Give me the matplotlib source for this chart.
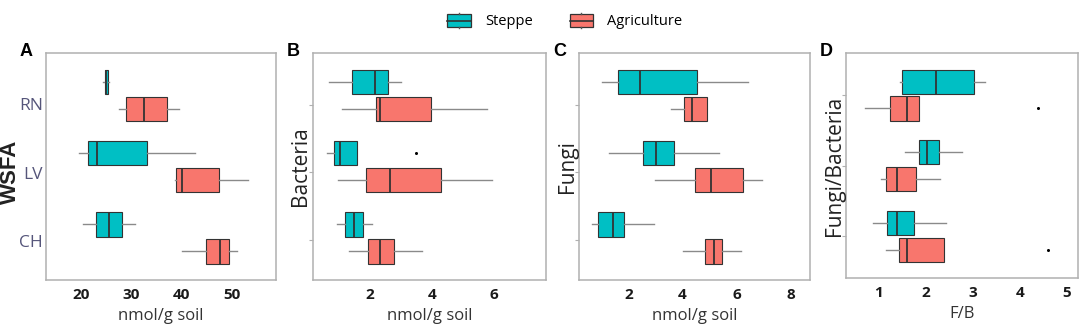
import matplotlib
matplotlib.use("Agg")
import matplotlib.pyplot as plt
from matplotlib.legend_handler import HandlerBase
from matplotlib.patches import Rectangle, Patch
from matplotlib.lines import Line2D

# five-number summaries: [whisker low, q1, median, q3, whisker high], order CH, LV, RN
sites = ["CH", "LV", "RN"]
groups = ["Steppe", "Agriculture"]
colors = ["#00BFC4", "#F8766D"]

wsfa_steppe = [[20.2, 22.9, 25.5, 28.1, 30.7], [19.5, 21.3, 23.0, 33.0, 42.7], [24.3, 24.6, 24.9, 25.3, 25.5]]
wsfa_agri = [[40.0, 44.8, 47.7, 49.5, 51.0], [38.7, 38.8, 40.1, 47.5, 53.3], [27.5, 28.8, 32.5, 37.1, 39.5]]

bact_steppe = [[0.93, 1.20, 1.49, 1.79, 2.06], [0.61, 0.85, 1.04, 1.59, 1.59], [0.69, 1.44, 2.17, 2.59, 3.00]]
bact_agri = [[1.34, 1.94, 2.32, 2.79, 3.66], [0.98, 1.86, 2.66, 4.30, 5.93], [1.11, 2.19, 2.33, 3.95, 5.75]]
bact_steppe_out = [[], [3.47], []]
bact_agri_out = [[], [], []]

fungi_steppe = [[0.67, 0.89, 1.42, 1.85, 2.96], [1.30, 2.53, 3.02, 3.69, 5.36], [1.04, 1.61, 2.43, 4.54, 6.41]]
fungi_agri = [[4.01, 4.83, 5.15, 5.45, 6.16], [2.99, 4.48, 5.05, 6.22, 6.93], [3.56, 4.07, 4.34, 4.89, 4.89]]

fb_steppe = [[0.88, 1.18, 1.39, 1.75, 2.42], [1.55, 1.85, 2.03, 2.29, 2.78], [1.45, 1.48, 2.21, 3.02, 3.27]]
fb_agri = [[1.16, 1.42, 1.59, 2.39, 2.39], [1.04, 1.14, 1.38, 1.79, 2.31], [0.70, 1.23, 1.60, 1.86, 1.86]]
fb_agri_out = [[4.61], [], [4.40]]

W, H = 1084, 329
fig = plt.figure(figsize=(W / 100, H / 100), dpi=100)
plt.rcParams['font.family'] = ['Open Sans', 'DejaVu Sans']


def add_ax(l, r, t, b):
    return fig.add_axes([l / W, 1 - b / H, (r - l) / W, (b - t) / H])


def stats(v, fl=()):
    return dict(whislo=v[0], q1=v[1], med=v[2], q3=v[3], whishi=v[4], fliers=list(fl))


def panel(ax, steppe, agri, xlim, xticks, s_out=None, a_out=None):
    s_out = s_out or [[]] * 3
    a_out = a_out or [[]] * 3
    for data, outs, off, col in [(steppe, s_out, 0.19, colors[0]), (agri, a_out, -0.19, colors[1])]:
        st = [stats(v, o) for v, o in zip(data, outs)]
        ax.bxp(st, positions=[1 + off, 2 + off, 3 + off], widths=0.34,
               orientation='horizontal', patch_artist=True, showcaps=False,
               boxprops=dict(facecolor=col, edgecolor='#333333', linewidth=0.8),
               medianprops=dict(color='#333333', linewidth=1.3),
               whiskerprops=dict(color='#8a8a8a', linewidth=1.0),
               flierprops=dict(marker='o', markersize=2.2, markerfacecolor='black',
                               markeredgewidth=0))
    ax.set_ylim(0.41, 3.6)
    ax.set_xlim(*xlim)
    ax.set_xticks(xticks)
    ax.set_xticklabels([str(t) for t in xticks], fontweight='bold', fontsize=11, color='#1a1a1a')
    ax.tick_params(axis='x', length=0, pad=6)
    for sp in ax.spines.values():
        sp.set_color('#b0b0b0')
        sp.set_linewidth(1.1)


top, bot = 52.7, 280

axA = add_ax(46, 276, top, bot)
panel(axA, wsfa_steppe, wsfa_agri, (12.9, 58.9), [20, 30, 40, 50])
axA.set_yticks([0.96, 1.915, 2.88])
axA.set_yticklabels(sites, fontsize=12.5, color='#55557a')
axA.tick_params(axis='y', length=0, pad=2)
axA.set_xlabel('nmol/g soil', fontsize=12, color='#333333', labelpad=4)

axB = add_ax(313.3, 546, top, bot)
panel(axB, bact_steppe, bact_agri, (0.18, 7.66), [2, 4, 6], bact_steppe_out, bact_agri_out)
axB.set_xlabel('nmol/g soil', fontsize=12, color='#333333', labelpad=4)

axC = add_ax(579.3, 810, top, bot)
panel(axC, fungi_steppe, fungi_agri, (0.19, 8.71), [2, 4, 6, 8])
axC.set_xlabel('nmol/g soil', fontsize=12, color='#333333', labelpad=4)

axD = add_ax(845.7, 1078.3, top, 278)
panel(axD, fb_steppe, fb_agri, (0.29, 5.25), [1, 2, 3, 4, 5], None, fb_agri_out)
axD.set_xlabel('F/B', fontsize=12, color='#333333', labelpad=4)

for ax in (axB, axC):
    ax.set_yticks([0.97, 1.92, 2.87])
axD.set_yticks([1, 2, 3])
for ax in (axB, axC, axD):
    ax.set_yticklabels([])
    ax.tick_params(axis='y', length=3, color='#b0b0b0')

ymid = 1 - (top + bot) / 2 / H
fig.text(10 / W, 1 - 172 / H, 'WSFA', rotation=90, va='center', ha='center',
         fontsize=16, fontweight='bold', family='Liberation Sans', color='#222222')
fig.text(300 / W, ymid, 'Bacteria', rotation=90, va='center', ha='center', fontsize=15, color='#222222')
fig.text(568 / W, ymid, 'Fungi', rotation=90, va='center', ha='center', fontsize=15, color='#222222')
fig.text(835 / W, ymid, 'Fungi/Bacteria', rotation=90, va='center', ha='center', fontsize=15, color='#222222')

for letter, x in zip("ABCD", [20, 287, 553, 820]):
    fig.text(x / W, 1 - 51 / H, letter, fontsize=13, fontweight='bold',
             family='Liberation Sans', va='center', ha='left')


class BoxKey(HandlerBase):
    def create_artists(self, legend, orig_handle, xdescent, ydescent, width, height, fontsize, trans):
        x0, y0 = -xdescent, -ydescent
        stub = height * 0.12
        rect = Rectangle((x0, y0 + stub), width, height - 2 * stub,
                         facecolor=orig_handle.get_facecolor(), edgecolor='#333333',
                         linewidth=0.9, transform=trans)
        mid = Line2D([x0, x0 + width], [y0 + height / 2] * 2, color='#333333', lw=1.2, transform=trans)
        s1 = Line2D([x0 + width / 2] * 2, [y0, y0 + stub], color='#555555', lw=1, transform=trans)
        s2 = Line2D([x0 + width / 2] * 2, [y0 + height - stub, y0 + height], color='#555555', lw=1,
                    transform=trans)
        return [rect, mid, s1, s2]


handles = [Patch(facecolor=c, label=g) for c, g in zip(colors, groups)]
fig.legend(handles=handles, loc='center', bbox_to_anchor=(565 / W, 1 - 21 / H), ncol=2,
           frameon=False, fontsize=10.5, handlelength=1.6, handleheight=1.3,
           handletextpad=1.0, columnspacing=2.5,
           handler_map={Patch: BoxKey()})

fig.savefig('out.png', dpi=100)
